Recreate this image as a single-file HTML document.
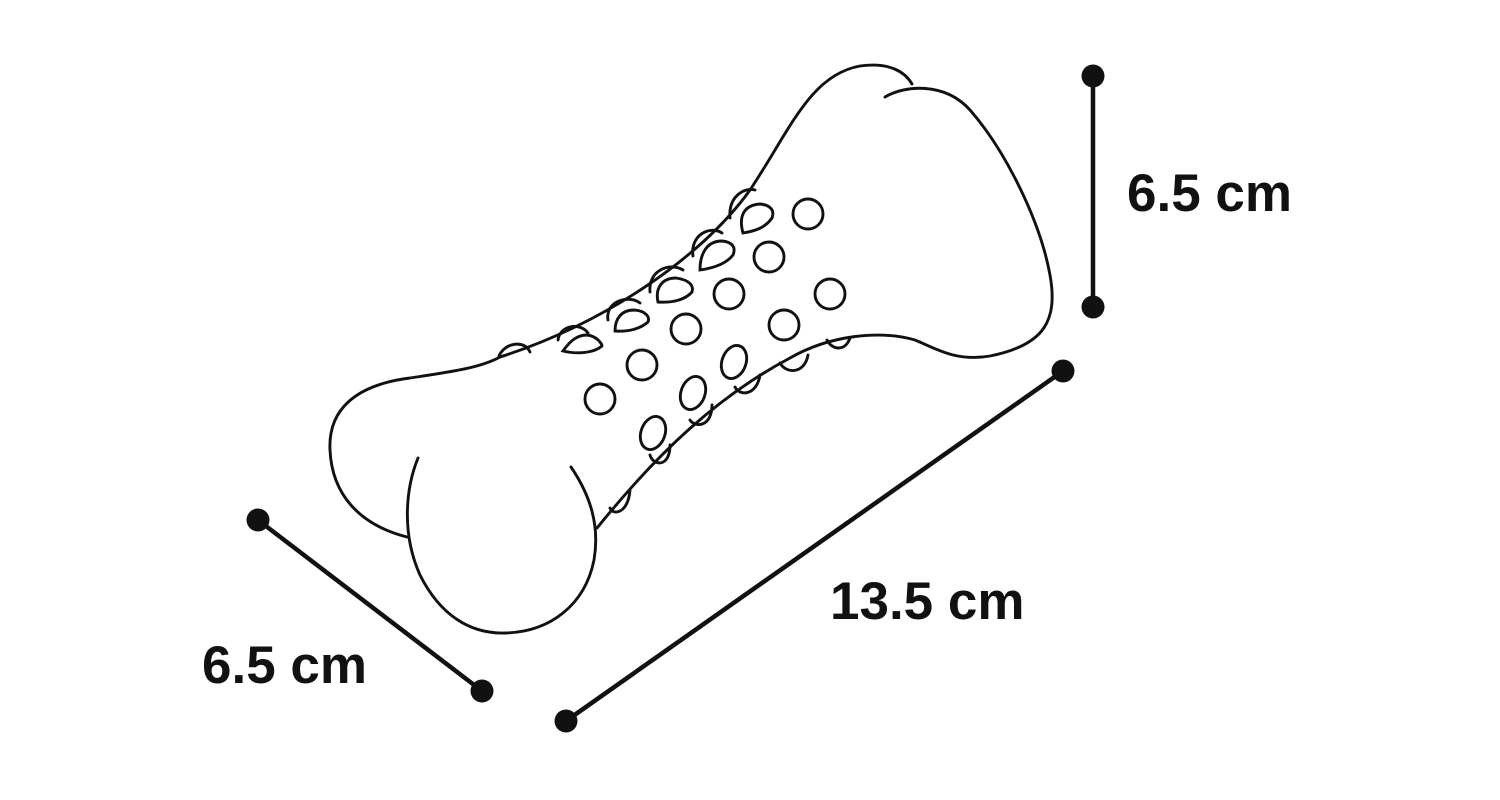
<!DOCTYPE html>
<html><head><meta charset="utf-8"><style>
html,body{margin:0;padding:0;background:#fff;width:1500px;height:800px;overflow:hidden}
svg text{font-family:"Liberation Sans",sans-serif;font-weight:bold;font-size:53px;fill:#111}
</style></head><body>
<svg width="1500" height="800" viewBox="0 0 1500 800" xmlns="http://www.w3.org/2000/svg">
<g fill="none" stroke="#111" stroke-width="2.9" stroke-linecap="round">
<path d="M407,537 C360,525 332,495 330,450 C328,410 355,385 410,378 C450,372 480,368 500,357 C600,325 700,260 750,190 C790,130 810,75 860,66 C890,62 905,72 912,84"/>
<path d="M885,97 C905,85 945,82 970,110 C1005,150 1040,220 1050,275 C1058,320 1045,345 990,356 C955,362 935,348 915,340 C880,330 830,335 790,358 C720,395 660,450 597,528"/>
<path d="M418,458 C405,490 402,535 420,575 C440,615 470,634 505,633 C550,632 585,605 594,560 C600,525 590,495 571,467"/>
<path d="M499,356 C505,342 525,340 530,352"/>
<path d="M558,340 C560,325 580,322 588,333"/>
<path d="M608,320 C605,300 630,295 640,303"/>
<path d="M650,292 C648,270 670,262 683,270"/>
<path d="M693,256 C690,235 710,225 722,233"/>
<path d="M730,218 C728,196 745,187 755,190"/>
<path d="M827,340 C832,350 845,352 850,338"/>
<path d="M780,363 C787,375 805,373 808,355"/>
<path d="M735,387 C740,397 757,395 760,375"/>
<path d="M690,420 C695,428 712,427 712,405"/>
<path d="M650,455 C653,466 670,468 670,445"/>
<path d="M610,508 C612,515 628,515 630,490"/>
<circle cx="808" cy="214" r="15"/>
<circle cx="769" cy="257" r="15"/>
<circle cx="729" cy="294" r="15"/>
<circle cx="830" cy="294" r="15"/>
<circle cx="686" cy="329" r="15"/>
<circle cx="784" cy="325" r="15"/>
<circle cx="642" cy="365" r="15"/>
<circle cx="600" cy="399" r="15"/>
<ellipse cx="734" cy="362" rx="12" ry="17" transform="rotate(20 734 362)"/>
<ellipse cx="693" cy="393" rx="12" ry="17" transform="rotate(20 693 393)"/>
<ellipse cx="653" cy="433" rx="12" ry="17" transform="rotate(20 653 433)"/>
<path d="M743,233 C738,215 745,205 760,204 C770,205 775,210 772,218 C765,228 755,231 743,233 Z"/>
<path d="M700,270 C700,252 708,241 722,241 C733,242 736,248 733,255 C726,264 714,268 700,270 Z"/>
<path d="M658,302 C655,288 662,278 676,278 C690,280 694,286 692,292 C685,300 672,303 658,302 Z"/>
<path d="M615,331 C615,318 622,310 634,310 C646,311 650,317 648,322 C640,329 628,332 615,331 Z"/>
<path d="M563,351 C570,341 577,335 587,335 C597,336 602,344 602,346 C595,352 580,355 563,351 Z"/>
</g>
<g stroke="#111" stroke-width="4.5" fill="#111">
<line x1="1093" y1="76" x2="1093" y2="307"/>
<line x1="1063" y1="371" x2="566" y2="721"/>
<line x1="258" y1="520" x2="482" y2="691"/>
<g stroke="none">
<circle cx="1093" cy="76" r="11.5"/>
<circle cx="1093" cy="307" r="11.5"/>
<circle cx="1063" cy="371" r="11.5"/>
<circle cx="566" cy="721" r="11.5"/>
<circle cx="258" cy="520" r="11.5"/>
<circle cx="482" cy="691" r="11.5"/>
</g>
</g>
<text x="1127" y="211">6.5 cm</text>
<text x="830" y="619">13.5 cm</text>
<text x="202" y="683">6.5 cm</text>
</svg>
</body></html>
